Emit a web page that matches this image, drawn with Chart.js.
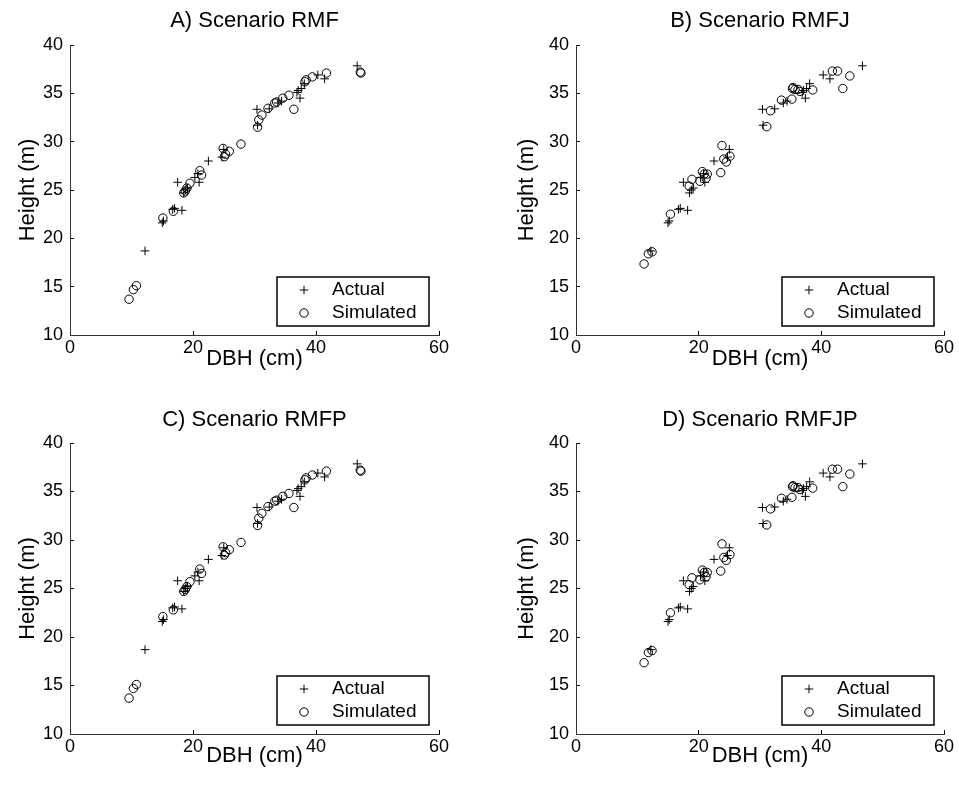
<!DOCTYPE html>
<html>
<head>
<meta charset="utf-8">
<script src="https://cdn.jsdelivr.net/npm/chart.js@4.4.1/dist/chart.umd.min.js"></script>
<style>
body { margin: 0; background: #fff; }
.panel { position: absolute; }
</style>
</head>
<body>
<div class="panel" style="left:0;top:0"><canvas id="chartA" width="480" height="397"></canvas></div>
<div class="panel" style="left:480px;top:0"><canvas id="chartB" width="479" height="397"></canvas></div>
<div class="panel" style="left:0;top:397px"><canvas id="chartC" width="480" height="397"></canvas></div>
<div class="panel" style="left:480px;top:397px"><canvas id="chartD" width="479" height="397"></canvas></div>
<script>
// datos: [DBH (cm), altura (m)]
const actual = [
  [12.2,18.7],[15.0,21.6],[15.2,21.8],[16.7,23.0],[17.0,23.1],[18.2,22.9],
  [17.5,25.8],[18.5,24.7],[18.8,25.0],[19.1,25.2],[20.3,26.3],[20.8,26.7],
  [21.0,25.8],[22.5,28.0],[24.7,28.4],[25.0,29.2],[30.4,33.35],[30.5,31.7],
  [32.4,33.4],[33.8,34.0],[34.4,34.2],[36.9,35.1],[37.1,35.3],[37.4,34.5],
  [37.6,35.5],[38.1,36.0],[40.3,36.9],[41.4,36.5],[46.7,37.85]
]

const simRMF = [
  [9.6,13.7],[10.3,14.7],[10.8,15.1],[15.1,22.1],[16.8,22.8],[18.5,24.7],
  [18.75,24.9],[19.0,25.2],[19.5,25.7],[21.1,27.0],[21.4,26.55],[24.9,29.3],
  [25.1,28.45],[25.3,28.7],[25.9,29.0],[27.8,29.75],[30.5,31.5],[30.7,32.25],
  [31.2,32.75],[32.2,33.45],[33.3,34.0],[33.6,34.1],[34.6,34.5],[35.6,34.8],
  [36.4,33.35],[38.2,36.2],[38.4,36.4],[39.4,36.7],[41.7,37.1],[47.2,37.2],[47.3,37.1]
]

const simRMFJ = [
  [11.1,17.35],[11.8,18.4],[12.4,18.6],[15.4,22.5],[18.45,25.4],[18.9,26.1],
  [20.2,25.9],[20.6,26.9],[20.9,26.65],[21.2,26.2],[21.4,26.65],[23.6,26.8],
  [23.8,29.6],[24.1,28.2],[24.5,27.9],[25.1,28.5],[31.1,31.55],[31.7,33.2],
  [33.5,34.3],[35.2,34.4],[35.3,35.5],[35.4,35.6],[35.7,35.4],[36.2,35.4],
  [36.5,35.2],[38.6,35.35],[41.8,37.3],[42.65,37.3],[43.5,35.5],[44.65,36.8]
]

// RMFP y RMFJP se ven iguales a RMF y RMFJ
const simRMFP = simRMF
const simRMFJP = simRMFJ

const titles = ['A) Scenario RMF', 'B) Scenario RMFJ', 'C) Scenario RMFP', 'D) Scenario RMFJP']
const seriesNames = ['Actual', 'Simulated']

const FONT = '"Liberation Sans", Arial, Helvetica, sans-serif'

// leyenda con recuadro dentro del area (como en matlab)
const boxLegend = {
  id: 'boxLegend',
  afterDraw(chart) {
    const { ctx, chartArea } = chart
    const w = 152, h = 49
    const x0 = chartArea.right - 10 - w
    const y0 = chartArea.bottom - 9 - h
    ctx.save()
    ctx.fillStyle = '#fff'
    ctx.fillRect(x0, y0, w, h)
    ctx.strokeStyle = '#000'
    ctx.lineWidth = 1.5
    ctx.strokeRect(x0, y0, w, h)
    ctx.font = '19px ' + FONT
    ctx.textBaseline = 'middle'
    chart.data.datasets.forEach((ds, i) => {
      const y = y0 + 13 + i * 23
      ctx.lineWidth = 1
      ctx.fillStyle = 'rgba(0,0,0,0)'
      Chart.helpers.drawPoint(ctx, {
        pointStyle: ds.pointStyle, radius: ds.pointRadius, borderWidth: 1
      }, x0 + 27, y)
      ctx.fillStyle = '#000'
      ctx.fillText(ds.label, x0 + 55, y)
    })
    ctx.restore()
  }
}

function makeChart(id, title, sim, plot, w, h, titleTop) {
  new Chart(document.getElementById(id), {
    type: 'scatter',
    data: {
      datasets: [{
        label: seriesNames[0],
        data: actual.map(p => ({ x: p[0], y: p[1] })),
        pointStyle: 'cross',
        pointRadius: 4.3,
        borderColor: '#000',
        borderWidth: 1
      }, {
        label: seriesNames[1],
        data: sim.map(p => ({ x: p[0], y: p[1] })),
        pointStyle: 'circle',
        pointRadius: 4.2,
        borderColor: '#000',
        backgroundColor: 'rgba(0,0,0,0)',
        borderWidth: 1
      }]
    },
    options: {
      responsive: false,
      animation: false,
      layout: { padding: { left: 0, top: 0, right: w - plot.right, bottom: 0 } },
      scales: {
        x: {
          min: 0, max: 60,
          ticks: { stepSize: 20, color: '#000', font: { family: FONT, size: 18 }, padding: 6, maxRotation: 0 },
          grid: { drawOnChartArea: false, tickLength: -4, color: '#000' },
          border: { color: '#333', width: 1 },
          title: { display: true, text: 'DBH (cm)', color: '#000', font: { family: FONT, size: 22 },
                   padding: { top: 0, bottom: h - plot.xLabel - 13.2 } },
          afterFit: s => { s.height = h - plot.bottom; s.paddingLeft = 0; s.paddingRight = 0 }
        },
        y: {
          min: 10, max: 40,
          ticks: { stepSize: 5, color: '#000', font: { family: FONT, size: 18 }, padding: 11 },
          grid: { drawOnChartArea: false, tickLength: -4, color: '#000' },
          border: { color: '#333', width: 1 },
          title: { display: true, text: 'Height (m)', color: '#000', font: { family: FONT, size: 22 },
                   padding: { top: plot.yLabel - 13.2, bottom: 0 } },
          afterFit: s => { s.width = plot.left; s.paddingTop = 0; s.paddingBottom = 0 }
        }
      },
      plugins: {
        legend: { display: false },
        tooltip: { enabled: false },
        title: {
          display: true,
          text: title,
          fullSize: false,
          color: '#000',
          font: { family: FONT, size: 22, weight: 'normal' },
          padding: { top: titleTop, bottom: plot.top - titleTop - 26.4 }
        }
      }
    },
    plugins: [boxLegend]
  })
}

const plotLeftCol = { left: 70, right: 439, xLabel: 359, yLabel: 28 }
const plotRightCol = { left: 96, right: 464, xLabel: 359, yLabel: 47 }

makeChart('chartA', titles[0], simRMF, Object.assign({ top: 45, bottom: 335 }, plotLeftCol), 480, 397, 8)
makeChart('chartB', titles[1], simRMFJ, Object.assign({ top: 45, bottom: 335 }, plotRightCol), 479, 397, 8)
makeChart('chartC', titles[2], simRMFP, Object.assign({ top: 46, bottom: 337 }, plotLeftCol), 480, 397, 10)
makeChart('chartD', titles[3], simRMFJP, Object.assign({ top: 46, bottom: 337 }, plotRightCol), 479, 397, 10)
</script>
</body>
</html>
